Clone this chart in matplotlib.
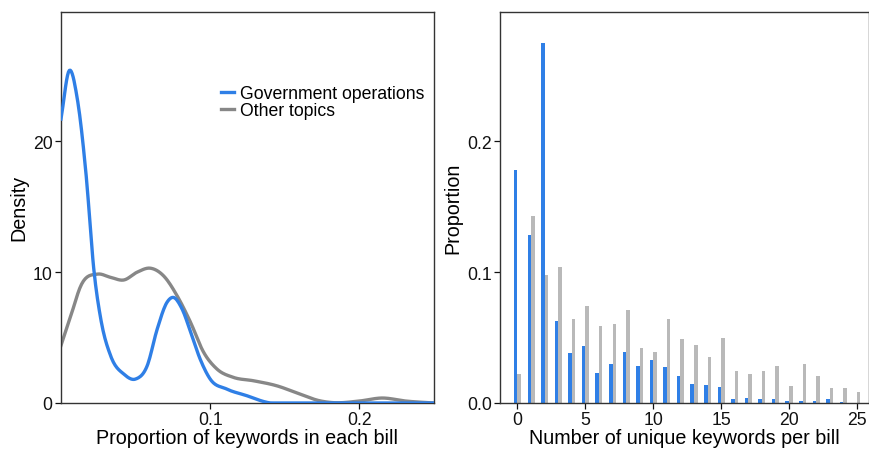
import numpy as np
import matplotlib
matplotlib.use("Agg")
import matplotlib.pyplot as plt

plt.rcParams['font.family'] = ['Liberation Sans', 'DejaVu Sans']

## Density curves
gov_x = [0.0, 0.0055, 0.011, 0.0167, 0.0222, 0.0267, 0.0333, 0.0422, 0.050, 0.0578,
         0.0645, 0.0711, 0.0751, 0.0811, 0.0878, 0.0933, 0.100, 0.111, 0.1245, 0.138,
         0.16, 0.20, 0.25]
gov_y = [21.7, 25.4, 23.2, 17.6, 10.0, 6.4, 3.6, 2.2, 1.83, 2.85,
         5.65, 7.7, 8.07, 7.2, 5.1, 3.35, 1.83, 1.07, 0.56, 0.05,
         0.0, 0.0, 0.0]

other_x = [0.0, 0.0067, 0.0133, 0.0245, 0.0333, 0.0422, 0.0511, 0.060, 0.0689, 0.0778,
           0.0867, 0.0955, 0.1045, 0.1155, 0.129, 0.1445, 0.160, 0.173, 0.182, 0.200,
           0.2155, 0.231, 0.25]
other_y = [4.4, 6.7, 8.96, 9.85, 9.6, 9.4, 10.0, 10.3, 9.7, 8.2,
           6.2, 3.9, 2.6, 1.96, 1.7, 1.32, 0.69, 0.18, 0.03, 0.15,
           0.38, 0.15, 0.0]

## Bar chart: proportion of bills by number of unique keywords
n_keywords = list(range(26))
gov_prop = [0.178, 0.128, 0.275, 0.063, 0.038, 0.0435, 0.023, 0.030, 0.039, 0.0285,
            0.033, 0.0275, 0.0206, 0.0148, 0.0135, 0.0122, 0.003, 0.004, 0.003, 0.003,
            0.0018, 0.0018, 0.0018, 0.003, 0.0005, 0.0]
other_prop = [0.022, 0.143, 0.098, 0.104, 0.064, 0.074, 0.059, 0.060, 0.071, 0.042,
              0.039, 0.064, 0.049, 0.044, 0.0354, 0.0496, 0.0247, 0.0219, 0.0244, 0.0282,
              0.013, 0.0295, 0.0206, 0.0115, 0.0115, 0.0084]

blue = "#2f7fe6"
grey_line = "#878787"
grey_bar = "#b9b9b9"


def smooth(xs, ys, n=400):
    # cubic Hermite through the read points
    xs = np.asarray(xs); ys = np.asarray(ys)
    xx = np.linspace(xs[0], xs[-1], n)
    m = np.gradient(ys, xs)
    idx = np.clip(np.searchsorted(xs, xx) - 1, 0, len(xs) - 2)
    x0, x1 = xs[idx], xs[idx + 1]
    h = x1 - x0
    t = (xx - x0) / h
    h00 = 2*t**3 - 3*t**2 + 1
    h10 = t**3 - 2*t**2 + t
    h01 = -2*t**3 + 3*t**2
    h11 = t**3 - t**2
    yy = h00*ys[idx] + h10*h*m[idx] + h01*ys[idx+1] + h11*h*m[idx+1]
    return xx, np.clip(yy, 0, None)


fig = plt.figure(figsize=(8.7, 4.52), dpi=100)
ax1 = fig.add_axes([0.0701, 0.1062, 0.4287, 0.8657])
ax2 = fig.add_axes([0.575, 0.1062, 0.424, 0.8657])

## Left: density
gx, gy = smooth(gov_x, gov_y)
ox, oy = smooth(other_x, other_y)
ax1.plot(ox, oy, color=grey_line, lw=2.4, label="Other topics", zorder=2)
ax1.plot(gx, gy, color=blue, lw=2.4, label="Government operations", zorder=3)
ax1.set_xlim(0, 0.25)
ax1.set_ylim(0, 29.9)
ax1.set_xticks([0.1, 0.2])
ax1.set_xticklabels(["0.1", "0.2"])
ax1.set_yticks([0, 10, 20])
ax1.set_xlabel("Proportion of keywords in each bill", fontsize=14.2, labelpad=0)
ax1.set_ylabel("Density", fontsize=14.2, labelpad=3)
h, l = ax1.get_legend_handles_labels()
ax1.legend(h[::-1], l[::-1], loc="upper left", bbox_to_anchor=(0.409, 0.83), frameon=False,
           fontsize=12.7, handlelength=0.75, handletextpad=0.35, labelspacing=0.0,
           borderaxespad=0)

## Right: bars
x = np.array(n_keywords)
w = 0.26
ax2.bar(x - w/2, gov_prop, width=w, color=blue, linewidth=0)
ax2.bar(x + w/2, other_prop, width=w, color=grey_bar, linewidth=0)
ax2.set_xlim(-1.27, 25.9)
ax2.set_ylim(0, 0.299)
ax2.set_xticks([0, 5, 10, 15, 20, 25])
ax2.set_yticks([0.0, 0.1, 0.2])
ax2.set_yticklabels(["0.0", "0.1", "0.2"])
ax2.set_xlabel("Number of unique keywords per bill", fontsize=14.2, labelpad=0)
ax2.set_ylabel("Proportion", fontsize=14.2, labelpad=3)

for ax in (ax1, ax2):
    ax.tick_params(direction="out", length=4, width=0.9, labelsize=12.7,
                   colors="#111111", pad=2)
    for s in ax.spines.values():
        s.set_linewidth(1.0)
        s.set_color("#333333")

fig.savefig("out.png", dpi=100)
